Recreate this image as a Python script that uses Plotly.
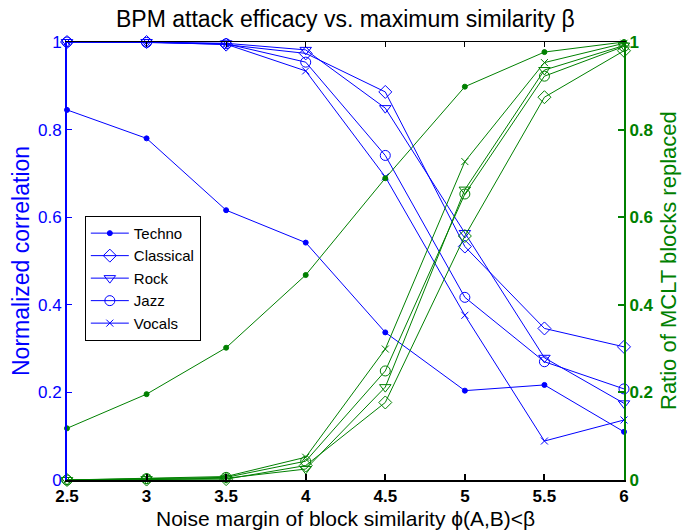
import plotly.graph_objects as go

# ---- data ----
noise_margin = [2.5, 3, 3.5, 4, 4.5, 5, 5.5, 6]
genres = ["Techno", "Classical", "Rock", "Jazz", "Vocals"]

corr_techno = [0.845, 0.780, 0.616, 0.542, 0.337, 0.204, 0.217, 0.110]
corr_classical = [1.0, 1.0, 0.994, 0.974, 0.886, 0.533, 0.346, 0.304]
corr_rock = [1.0, 1.0, 0.997, 0.982, 0.849, 0.564, 0.279, 0.175]
corr_jazz = [1.0, 0.999, 0.996, 0.954, 0.741, 0.417, 0.270, 0.208]
corr_vocals = [1.0, 0.999, 0.995, 0.934, 0.692, 0.376, 0.089, 0.137]

ratio_techno = [0.118, 0.196, 0.302, 0.468, 0.689, 0.898, 0.977, 1.0]
ratio_classical = [0.0, 0.001, 0.002, 0.033, 0.177, 0.557, 0.874, 0.980]
ratio_rock = [0.0, 0.002, 0.004, 0.025, 0.212, 0.663, 0.936, 0.992]
ratio_jazz = [0.0, 0.003, 0.006, 0.043, 0.249, 0.653, 0.922, 0.990]
ratio_vocals = [0.0, 0.004, 0.008, 0.052, 0.299, 0.727, 0.953, 0.997]

x_ticks = [2.5, 3, 3.5, 4, 4.5, 5, 5.5, 6]
x_ticklabels = ["2.5", "3", "3.5", "4", "4.5", "5", "5.5", "6"]
y_ticks = [0, 0.2, 0.4, 0.6, 0.8, 1]
y_ticklabels = ["0", "0.2", "0.4", "0.6", "0.8", "1"]

corr_series = [corr_techno, corr_classical, corr_rock, corr_jazz, corr_vocals]
ratio_series = [ratio_techno, ratio_classical, ratio_rock, ratio_jazz, ratio_vocals]

BLUE = "#0000FF"
GREEN = "#008000"
FONT = "Arial, Liberation Sans, Helvetica, sans-serif"

symbols = ["circle", "diamond-open", "triangle-down-open", "circle-open", "x-thin-open"]
sizes = [5, 10, 10, 10, 7]

fig = go.Figure()

for name, ys, sym, sz in zip(genres, corr_series, symbols, sizes):
    fig.add_trace(go.Scatter(
        x=noise_margin, y=ys, name=name, mode="lines+markers",
        line=dict(color=BLUE, width=1),
        marker=dict(symbol=sym, size=sz, color=BLUE, line=dict(color=BLUE, width=1)),
        cliponaxis=False, xaxis="x", yaxis="y",
    ))

for name, ys, sym, sz in zip(genres, ratio_series, symbols, sizes):
    fig.add_trace(go.Scatter(
        x=noise_margin, y=ys, name=name, mode="lines+markers", showlegend=False,
        line=dict(color=GREEN, width=1),
        marker=dict(symbol=sym, size=sz, color=GREEN, line=dict(color=GREEN, width=1)),
        cliponaxis=False, xaxis="x", yaxis="y2",
    ))

# invisible trace to anchor top axis
fig.add_trace(go.Scatter(x=[noise_margin[0]], y=[y_ticks[0]], xaxis="x2", yaxis="y",
                         mode="markers", marker=dict(opacity=0), showlegend=False,
                         hoverinfo="skip"))

fig.update_layout(
    width=691, height=530,
    margin=dict(l=67, r=67, t=42, b=50),
    paper_bgcolor="white", plot_bgcolor="white",
    font=dict(family=FONT, color="black"),
    showlegend=True,
    legend=dict(x=0.032, y=0.603, xanchor="left", yanchor="top",
                bgcolor="white", bordercolor="black", borderwidth=1,
                itemwidth=38,
                font=dict(size=15, color="black"), tracegroupgap=0),
    xaxis=dict(range=[2.5, 6], tickvals=x_ticks,
               ticktext=["<b>%s</b>" % t for t in x_ticklabels],
               showgrid=False, zeroline=False, showline=True, linecolor="black",
               linewidth=2, ticks="inside", ticklen=6, tickwidth=2, tickcolor="black",
               tickfont=dict(size=17, color="black"),
               mirror=False),
    xaxis2=dict(range=[2.5, 6], tickvals=x_ticks, overlaying="x", side="top",
                showgrid=False, zeroline=False, showline=True, linecolor="black",
                linewidth=1, ticks="inside", ticklen=5, tickwidth=1, tickcolor="black",
                showticklabels=False),
    yaxis=dict(range=[0, 1], tickvals=y_ticks, ticktext=y_ticklabels,
               showgrid=False, zeroline=False, showline=True, linecolor=BLUE,
               linewidth=2, ticks="inside", ticklen=5, tickcolor=BLUE,
               tickfont=dict(size=17, color=BLUE)),
    yaxis2=dict(range=[0, 1], tickvals=y_ticks, ticktext=["<b>%s</b>" % t for t in y_ticklabels],
                overlaying="y", side="right",
                showgrid=False, zeroline=False, showline=True, linecolor=GREEN,
                linewidth=2, ticks="inside", ticklen=6, tickwidth=2, tickcolor=GREEN,
                tickfont=dict(size=17, color=GREEN)),
    annotations=[
        dict(text="BPM attack efficacy vs. maximum similarity β", xref="paper", yref="paper",
             x=0.5, y=1.0525, xanchor="center", yanchor="middle", showarrow=False,
             font=dict(size=23, color="black")),
        dict(text="Noise margin of block similarity ϕ(A,B)<β", xref="paper", yref="paper",
             x=0.5, y=-0.0868, xanchor="center", yanchor="middle", showarrow=False,
             font=dict(size=21, color="black")),
        dict(text="Normalized correlation", xref="paper", yref="paper",
             x=-0.0826, y=0.5, xanchor="center", yanchor="middle", showarrow=False,
             textangle=-90, font=dict(size=23, color=BLUE)),
        dict(text="Ratio of MCLT blocks replaced", xref="paper", yref="paper",
             x=1.079, y=0.5, xanchor="center", yanchor="middle", showarrow=False,
             textangle=-90, font=dict(size=22, color=GREEN)),
    ],
)

fig.write_html("out.html")
